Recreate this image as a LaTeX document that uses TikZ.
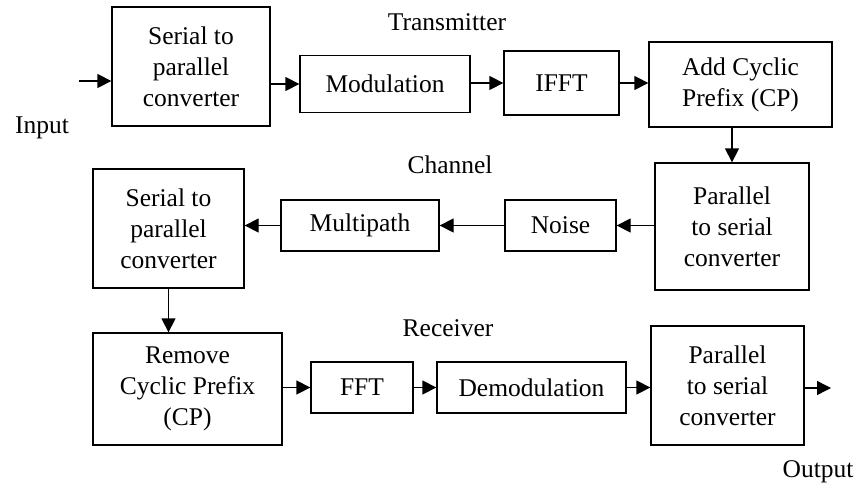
\documentclass[tikz,border=0pt]{standalone}
\usepackage{fontspec}
\setmainfont{Liberation Serif}
\usetikzlibrary{arrows.meta}
\tikzset{>={Triangle[length=14pt,width=14pt]}}
\tikzset{blk/.style={draw,line width=1.3pt,align=center,inner sep=0pt}}

\begin{document}
\begin{tikzpicture}[x=1pt,y=-1pt,line width=1.3pt,font=\fontsize{25.5}{31}\selectfont]
  \useasboundingbox (0,0) rectangle (858,484);

  % transmitter
  \node[blk,minimum width=158pt,minimum height=119pt] (s2pA) at (191,66.5) {Serial to\\parallel\\converter};
  \node[blk,minimum width=170pt,minimum height=57pt] (mod) at (385,84) {Modulation};
  \node[blk,minimum width=115pt,minimum height=64pt] (ifft) at (561.5,83) {IFFT};
  \node[blk,minimum width=183pt,minimum height=85pt] (addcp) at (740.5,84.5) {Add Cyclic\\Prefix (CP)};
  \node (tx) at (447,22) {Transmitter};
  \coordinate (in) at (79,81);
  \node (inlbl) at (42,128) {Input};

  % channel
  \node[blk,minimum width=154pt,minimum height=127pt] (p2sA) at (732,226.5) {Parallel\\to serial\\converter};
  \node[blk,minimum width=111pt,minimum height=51pt] (noise) at (560.5,225.5) {Noise};
  \node[blk,minimum width=158pt,minimum height=51pt] (multi) at (360,225.5) {Multipath};
  \node[blk,minimum width=151pt,minimum height=119pt] (s2pB) at (168.5,228.5) {Serial to\\parallel\\converter};
  \node (ch) at (450,165) {Channel};

  % receiver
  \node[blk,minimum width=189pt,minimum height=112pt] (rmcp) at (187.5,389) {Remove\\Cyclic Prefix\\(CP)};
  \node[blk,minimum width=102pt,minimum height=51pt] (fft) at (362,387.5) {FFT};
  \node[blk,minimum width=189pt,minimum height=51pt] (demod) at (531.5,387.5) {Demodulation};
  \node[blk,minimum width=153pt,minimum height=119pt] (p2sB) at (727.5,385.5) {Parallel\\to serial\\converter};
  \node (rx) at (448,328) {Receiver};
  \coordinate (out) at (831,388);
  \node (outlbl) at (818,472) {Output};

  \draw[->] (in) -- (in -| s2pA.west);
  \draw[->] (s2pA.east |- mod) -- (mod.west);
  \draw[->] (mod.east |- ifft) -- (ifft.west);
  \draw[->] (ifft.east) -- (ifft.east -| addcp.west);
  \draw[->] (addcp.south -| p2sA.north) -- (p2sA.north);

  \draw[->] (p2sA.west |- noise) -- (noise.east);
  \draw[->] (noise.west) -- (multi.east);
  \draw[->] (multi.west) -- (multi.west -| s2pB.east);
  \draw[->] (s2pB.south) -- (s2pB.south |- rmcp.north);

  \draw[->] (rmcp.east |- fft) -- (fft.west);
  \draw[->] (fft.east) -- (demod.west);
  \draw[->] (demod.east) -- (demod.east -| p2sB.west);
  \draw[->] (p2sB.east |- out) -- (out);
\end{tikzpicture}
\end{document}
